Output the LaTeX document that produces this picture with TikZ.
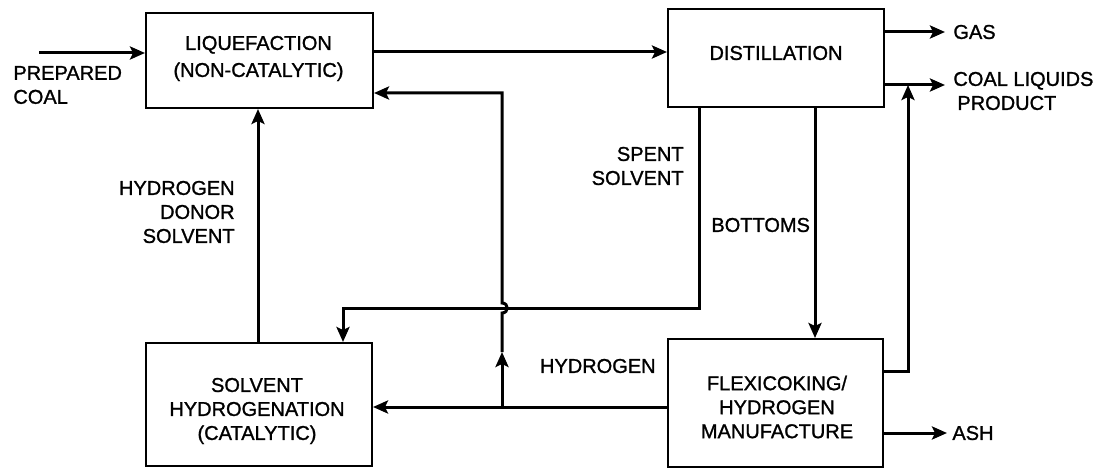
\documentclass[tikz,border=0pt]{standalone}
\usepackage{fontspec}
\setmainfont{Liberation Sans}
\newfontfamily\diagfont[FakeBold=1.2]{Liberation Sans}
\usetikzlibrary{arrows.meta}
\begin{document}
\begin{tikzpicture}[x=0.5pt,y=-0.5pt,
  >={Stealth[length=7.5pt,width=6.5pt,inset=1.5pt]},
  box/.style={draw,line width=1pt,inner sep=0pt},
  flow/.style={line width=1.5pt},
  txt/.style={inner sep=0pt,font=\diagfont\fontsize{10}{12}\selectfont},
  lbl/.style={inner sep=0pt,font=\diagfont\fontsize{10}{12}\selectfont}]
\useasboundingbox (0,0) rectangle (1113,470);
% boxes
\node[box,minimum width=113.5pt,minimum height=47.5pt] (liq) at (259.5,60.5) {};
\node[box,minimum width=108pt,minimum height=49pt] (dist) at (776,58) {};
\node[box,minimum width=113pt,minimum height=61.5pt] (solv) at (259,404.5) {};
\node[box,minimum width=107.5pt,minimum height=64pt] (flex) at (775.5,403) {};
% box texts
\node[txt,align=center] (liqT) at (258.5,58.5) {LIQUEFACTION\\[1.5pt](NON-CATALYTIC)};
\node[txt,align=center] (distT) at (776,53) {DISTILLATION};
\node[txt,align=center] (solvT) at (257,411) {SOLVENT\\HYDROGENATION\\(CATALYTIC)};
\node[txt,align=center] (flexT) at (777,407) {FLEXICOKING/\\HYDROGEN\\MANUFACTURE};
% labels
\node[lbl,anchor=west,align=left] (coalL) at (13,85) {PREPARED\\COAL};
\node[lbl,anchor=east,align=right] (donorL) at (235,212) {HYDROGEN\\DONOR\\SOLVENT};
\node[lbl,anchor=east,align=right] (spentL) at (684,166) {SPENT\\SOLVENT};
\node[lbl,anchor=west] (botL) at (711,225) {BOTTOMS};
\node[lbl,anchor=east] (hydL) at (656,366) {HYDROGEN};
\node[lbl,anchor=west] (gasL) at (953,32) {GAS};
\node[lbl,anchor=west,align=left] (prodL) at (953,91) {COAL LIQUIDS\\\hspace*{2pt}PRODUCT};
\node[lbl,anchor=west] (ashL) at (952,433) {ASH};
% coordinates
\coordinate (cin) at (39,53);
\coordinate (p1) at ([yshift=4.25pt]liq.east);
\coordinate (gas0) at ([yshift=13pt]dist.east);
\coordinate (gasE) at (945,32);
\coordinate (pl0) at ([yshift=-13.5pt]dist.east);
\coordinate (plE) at (945,85);
\coordinate (fp) at (908,371);
\coordinate (ash0) at ([yshift=-15pt]flex.east);
\coordinate (ashE) at (947,433);
\coordinate (bt) at (815,0);
\coordinate (ssb) at (699,308);
\coordinate (ssa) at (343,308);
\coordinate (dn) at (258,0);
\coordinate (h1) at ([yshift=-2pt]flex.west);
\coordinate (hj) at (502,407);
\coordinate (hm) at (502,352);
\coordinate (hb) at (502,313);
\coordinate (ht) at (502,303);
\coordinate (hc) at (502,93);
% connectors
\draw[flow,->] (cin) -- (cin -| liq.west);
\draw[flow,->] (p1) -- (p1 -| dist.west);
\draw[flow,->] (gas0) -- (gasE);
\draw[flow,->] (pl0) -- (plE);
\draw[flow,->] (flex.east |- fp) -- (fp) -- (fp |- pl0);
\draw[flow,->] (ash0) -- (ashE);
\draw[flow,->] (dist.south -| bt) -- (flex.north -| bt);
\draw[flow,->] (dist.south -| ssb) -- (ssb) -- (ssa) -- (ssa |- solv.north);
\draw[flow,->] (solv.north -| dn) -- (liq.south -| dn);
\draw[flow,->] (h1) -- (h1 -| solv.east);
\draw[flow,->] (hj) -- (hm);
\draw[flow,->] (hm) -- (hb) .. controls ([xshift=3.5pt]hb) and ([xshift=3.5pt]ht) .. (ht) -- (hc) -- (hc -| liq.east);
\end{tikzpicture}
\end{document}
